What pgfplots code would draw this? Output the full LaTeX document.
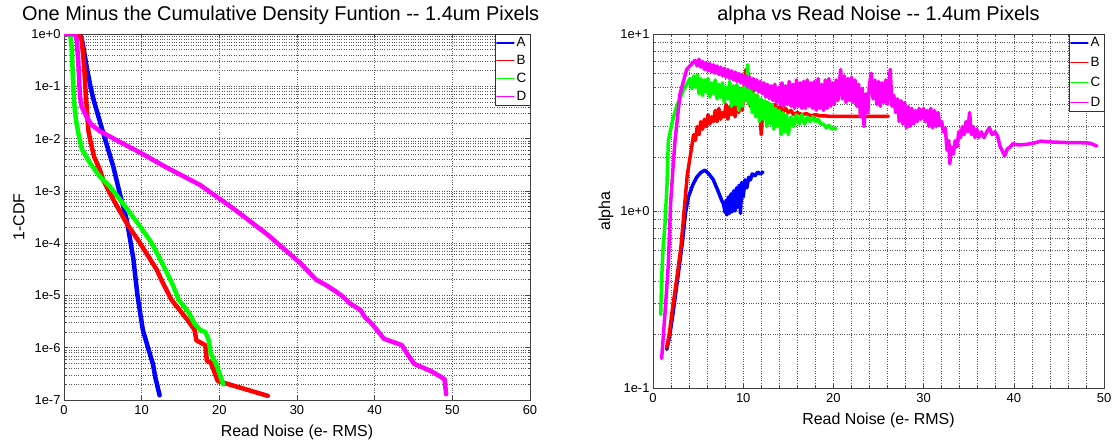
\documentclass[border=0pt]{standalone}
\usepackage{fontspec}
\setmainfont{Liberation Sans}
\usepackage{pgfplots}
\pgfplotsset{compat=1.18}

\definecolor{cA}{RGB}{0,0,255}
\definecolor{cB}{RGB}{255,0,0}
\definecolor{cC}{RGB}{0,255,0}
\definecolor{cD}{RGB}{255,0,255}

\pgfplotsset{
  mstyle/.style={
    scale only axis,
    /pgf/number format/assume math mode=true,
    axis line style={black!75, line width=0.8bp},
    tick style={black!75, line width=0.6bp},
    major tick length=4bp, minor tick length=2bp,
    tick align=inside,
    grid style={dotted, black!65, line width=0.6bp},
    tick label style={font=\fontsize{13}{13}\selectfont},
    xticklabel style={yshift=-2bp},
    label style={font=\fontsize{16}{16}\selectfont},
    xlabel style={yshift=-3bp},
    title style={font=\fontsize{20}{20}\selectfont},
    legend style={at={(1,1)}, anchor=north east, draw=black!80, fill=white,
      font=\fontsize{13.5}{14}\selectfont, inner sep=1.5pt, row sep=3bp,
      cells={anchor=west}},
    legend image post style={line width=1.4bp},
    every axis plot/.append style={line join=round, line cap=round},
  },
}

\begin{document}
\begin{tikzpicture}
\path[use as bounding box] (0,0) rectangle (1115bp,445bp);

% ---------- left: 1-CDF ----------
\begin{axis}[
  mstyle,
  at={(64bp,45bp)}, anchor=south west,
  width=466bp, height=366bp,
  xmin=0, xmax=60, ymin=1e-7, ymax=1,
  ymode=log,
  xtick={0,10,...,60},
  ytick={1e-7,1e-6,1e-5,1e-4,1e-3,1e-2,1e-1,1},
  yticklabels={1e-7,1e-6,1e-5,1e-4,1e-3,1e-2,1e-1,1e+0},
  xmajorgrids, ymajorgrids, yminorgrids,
  xlabel={Read Noise (e- RMS)},
  ylabel={1-CDF},
  title={One Minus the Cumulative Density Funtion -{}- 1.4um Pixels},
  title style={at={(0.465,1)}, anchor=south},
]
\addplot[cA, line width=4.5bp] coordinates {
(0,1) (2.0,1) (2.3,0.8) (2.6,0.45) (3.0,0.2) (3.4,0.1) (3.77,0.058) (5.06,0.0126)
(6.35,2.9e-3) (7.1,1e-3) (8.07,2.8e-4) (8.5,1.2e-4) (8.93,5e-5) (9.46,1e-5)
(10.15,2.2e-6) (10.8,1.02e-6) (11.45,4.9e-7) (11.76,2.7e-7) (12.31,1.23e-7)};
\addlegendentry{A}
\addplot[cB, line width=4.5bp] coordinates {
(0,1) (1.85,1) (2.27,0.78) (2.57,0.275) (2.83,0.063) (3.13,0.0145) (3.4,9e-3)
(3.88,4.5e-3) (4.63,2.5e-3) (5.06,1.6e-3) (6.35,6.8e-4) (8.07,2.4e-4) (9.79,1e-4)
(11.94,3.1e-5) (12.68,1.8e-5) (13.83,8.3e-6) (15.2,4.6e-6) (15.9,3.4e-6) (16.8,2.2e-6)
(17.05,1.38e-6) (18.2,1.12e-6) (18.4,5.6e-7) (18.9,5.2e-7) (19.8,2.3e-7) (20.27,2.2e-7)
(26.25,1.2e-7)};
\addlegendentry{B}
\addplot[cC, line width=4.5bp] coordinates {
(0,1) (0.8,1) (1.0,0.56) (1.15,0.14) (1.3,0.05) (1.55,0.022) (1.85,0.0126) (2.3,6.3e-3)
(3.35,3.4e-3) (4.63,1.86e-3) (5.92,1.2e-3) (7.64,5.6e-4) (9.79,2.1e-4) (11.3,1e-4)
(12.7,4e-5) (14.0,1.6e-5) (14.75,8.3e-6) (16.1,4.6e-6) (16.8,2.9e-6) (17.5,2.2e-6)
(18.2,2.0e-6) (18.65,1.38e-6) (18.9,7.6e-7) (19.6,4.9e-7) (20.5,2.0e-7)};
\addlegendentry{C}
\addplot[cD, line width=4.5bp] coordinates {
(0,1) (1.42,1) (1.63,0.78) (1.85,0.275) (2.06,0.063) (2.27,0.041) (2.92,0.026)
(3.5,0.0186) (4.63,0.0138) (6.78,9.3e-3) (9.79,5.4e-3) (13.2,2.8e-3) (17.5,1.3e-3)
(21.8,4.6e-4) (26.1,1.5e-4) (30.4,4.2e-5) (32.46,2e-5) (33.6,1.62e-5) (34.98,1.2e-5)
(35.9,9.5e-6) (36.8,7.1e-6) (38.2,5.2e-6) (38.7,3.9e-6) (39.6,2.9e-6) (40.5,2e-6)
(41.2,1.48e-6) (42.35,1.29e-6) (43.5,1.12e-6) (44.2,7.6e-7) (45.1,4.9e-7) (47.2,3.6e-7)
(48.3,2.9e-7) (49.0,2.5e-7) (49.2,1.29e-7)};
\addlegendentry{D}
\end{axis}

% ---------- right: alpha ----------
\begin{axis}[
  mstyle,
  at={(653bp,57bp)}, anchor=south west,
  width=451bp, height=354bp,
  xmin=0, xmax=50, ymin=0.1, ymax=10,
  ymode=log,
  xtick={0,10,...,50}, minor x tick num=4,
  ytick={0.1,1,10},
  yticklabels={1e-1,1e+0,1e+1},
  xmajorgrids, xminorgrids, ymajorgrids, yminorgrids,
  xlabel={Read Noise (e- RMS)},
  ylabel={alpha},
  title={alpha vs Read Noise -{}- 1.4um Pixels},
  legend style={row sep=5bp},
]
\addplot[cA, line width=3.5bp] coordinates {
(1.52,0.165) (1.8,0.19) (2.2,0.26) (2.75,0.42) (3.25,0.66) (3.6,0.97) (3.92,1.2)
(4.4,1.4) (4.84,1.55) (5.3,1.65) (5.76,1.7) (6.2,1.62) (6.69,1.5) (7.2,1.3) (7.61,1.15)
(7.8,1.1) (8.0,0.98) (8.1,1.15) (8.2,0.95) (8.35,1.2) (8.5,0.97) (8.65,1.25) (8.8,0.99)
(8.95,1.3) (9.1,1.0) (9.25,1.35) (9.4,1.05) (9.55,1.4) (9.7,0.97) (9.85,1.45) (10.0,1.2)
(10.2,1.5) (10.4,1.35) (10.6,1.55) (10.8,1.5) (11.0,1.62) (11.3,1.58) (11.6,1.66)
(11.9,1.62) (12.2,1.66)};
\addlegendentry{A}
\addplot[cB, line width=3.5bp] coordinates {
(1.52,0.17) (1.8,0.2) (2.07,0.26) (2.62,0.41) (3.1,0.63) (3.45,1.0) (3.8,1.6) (4.29,2.3)
(4.5,2.7) (4.7,2.5) (4.9,3.0) (5.1,2.7) (5.3,3.2) (5.5,2.9) (5.7,3.3) (5.9,3.0) (6.1,3.5)
(6.3,3.1) (6.5,3.4) (6.7,3.2) (6.9,3.7) (7.1,3.2) (7.3,3.8) (7.5,3.3) (7.7,3.6) (7.9,3.4)
(8.1,4.0) (8.3,3.3) (8.5,3.9) (8.7,3.5) (8.9,4.1) (9.1,3.4) (9.3,4.2) (9.5,3.6) (9.7,4.3)
(9.9,3.7) (10.1,5.0) (10.3,6.3) (10.4,4.2) (10.6,6.0) (10.8,3.9) (11.0,4.8) (11.2,3.8)
(11.4,4.5) (11.6,3.6) (11.8,4.2) (12.0,2.7) (12.2,4.0) (12.4,3.6) (12.6,4.1) (12.8,3.7)
(13.0,4.0) (13.2,3.8) (13.5,4.0) (13.8,3.7) (14.1,3.9) (14.4,3.6) (14.7,3.8) (15.0,3.6)
(15.3,3.7) (15.6,3.5) (16.0,3.6) (16.5,3.5) (17.0,3.55) (17.5,3.45) (18.0,3.5) (18.5,3.45)
(19.0,3.45) (19.5,3.43) (26.1,3.43)};
\addlegendentry{B}
\addplot[cC, line width=3.5bp] coordinates {
(0.85,0.26) (0.95,0.4) (1.1,0.6) (1.33,0.85) (1.55,1.4) (1.7,2.5) (2.2,3.3) (2.62,3.9)
(3.36,4.8) (4.1,5.6) (4.3,4.9) (4.5,5.8) (4.7,5.0) (4.9,5.9) (5.1,4.6) (5.3,5.6) (5.5,4.5)
(5.7,5.5) (5.9,4.7) (6.1,5.6) (6.3,4.4) (6.5,5.3) (6.7,4.6) (6.9,5.5) (7.1,4.3) (7.3,5.2)
(7.5,4.4) (7.7,5.3) (7.9,4.1) (8.1,5.0) (8.3,4.3) (8.5,5.4) (8.7,3.9) (8.9,5.1) (9.1,4.0)
(9.3,5.2) (9.5,3.7) (9.7,4.9) (9.9,3.9) (10.1,5.0) (10.3,4.2) (10.5,6.7) (10.6,4.0)
(10.8,5.2) (11.0,3.6) (11.2,4.6) (11.4,3.4) (11.6,4.5) (11.8,3.2) (12.0,4.3) (12.2,3.3)
(12.4,4.2) (12.6,3.0) (12.8,4.1) (13.0,3.1) (13.2,4.0) (13.4,2.9) (13.6,3.8) (13.8,3.0)
(14.0,3.7) (14.2,2.7) (14.4,3.6) (14.6,2.8) (14.8,3.5) (15.0,2.7) (15.3,3.4) (15.6,3.0)
(15.9,3.5) (16.2,3.1) (16.5,3.5) (16.8,3.1) (17.1,3.4) (17.4,3.2) (17.7,3.4) (18.0,3.2)
(18.3,3.3) (18.6,3.1) (18.9,3.1) (19.2,2.95) (19.5,3.05) (19.8,2.9) (20.1,2.95) (20.3,2.9)};
\addlegendentry{C}
\addplot[cD, line width=3.5bp] coordinates {
(0.96,0.147) (1.33,0.264) (1.7,0.5) (1.95,1.1) (2.2,1.7) (2.44,2.5) (3.0,4.6) (3.73,6.3)
(4.66,7.1) (4.9,6.6) (5.1,7.2) (5.3,6.5) (5.5,7.0) (5.7,6.3) (5.9,6.9) (6.1,6.2) (6.3,6.8)
(6.5,6.1) (6.7,6.7) (6.9,6.0) (7.1,6.6) (7.3,5.9) (7.5,6.5) (7.7,5.8) (7.9,6.4) (8.1,5.7)
(8.3,6.3) (8.5,5.6) (8.7,6.2) (8.9,5.5) (9.1,6.1) (9.3,5.4) (9.5,6.0) (9.7,5.3) (9.9,5.9)
(10.1,5.2) (10.3,5.8) (10.5,5.0) (10.7,5.7) (10.9,4.9) (11.1,5.6) (11.3,4.8) (11.5,5.5)
(11.7,4.7) (11.9,5.4) (12.1,4.6) (12.3,5.3) (12.5,4.4) (12.7,5.2) (12.9,4.3) (13.1,5.1)
(13.3,4.2) (13.5,5.2) (13.7,4.1) (13.9,5.0) (14.1,4.0) (14.3,5.3) (14.5,3.9) (14.7,5.1)
(14.9,4.0) (15.1,5.4) (15.3,3.9) (15.5,5.2) (15.7,3.8) (15.9,5.5) (16.1,3.9) (16.3,5.3)
(16.5,3.8) (16.7,5.4) (16.9,3.8) (17.1,5.5) (17.3,3.9) (17.5,5.3) (17.7,3.8) (17.9,5.4)
(18.1,3.7) (18.3,5.6) (18.5,3.8) (18.7,5.2) (18.9,3.7) (19.1,5.5) (19.3,3.8) (19.5,5.6)
(19.7,3.9) (19.9,5.3) (20.1,4.0) (20.3,5.5) (20.5,4.2) (20.8,6.3) (21.0,4.3) (21.2,5.8)
(21.4,4.1) (21.6,5.6) (21.8,4.2) (22.0,5.7) (22.2,4.1) (22.4,5.5) (22.6,3.9) (22.8,5.2)
(23.0,3.4) (23.2,4.9) (23.4,3.0) (23.6,4.6) (23.8,3.6) (24.0,5.2) (24.2,6.0) (24.4,4.3)
(24.6,5.5) (24.8,4.0) (25.0,5.4) (25.2,3.9) (25.4,5.3) (25.6,4.1) (25.8,5.5) (26.0,4.0)
(26.3,6.3) (26.5,3.9) (26.7,4.5) (26.9,3.6) (27.1,4.3) (27.3,3.2) (27.5,4.2) (27.7,3.1)
(27.9,4.1) (28.1,2.95) (28.3,3.9) (28.5,3.0) (28.7,3.8) (28.9,3.1) (29.1,3.7) (29.3,3.2)
(29.5,3.8) (29.7,3.3) (30.0,3.8) (30.2,3.2) (30.4,3.7) (30.6,3.0) (30.8,3.8) (31.0,2.95)
(31.2,3.7) (31.4,3.0) (31.6,3.6) (31.8,3.05) (32.0,3.2) (32.2,2.8) (32.4,2.95) (32.6,2.2)
(32.8,2.5) (32.9,1.85) (33.1,2.3) (33.3,2.1) (33.5,2.5) (33.7,2.3) (33.9,2.8) (34.1,2.6)
(34.3,3.0) (34.5,2.7) (34.7,3.2) (34.9,2.8) (35.1,3.6) (35.3,2.7) (35.5,3.0) (35.7,2.6)
(35.9,2.9) (36.1,2.6) (36.4,2.8) (36.7,2.6) (37.0,2.8) (37.3,2.95) (37.6,2.7) (37.9,2.8)
(38.2,2.65) (38.5,2.3) (38.8,2.15) (39.0,2.05) (39.3,2.25) (39.6,2.3) (39.9,2.4) (40.5,2.36)
(41.4,2.38) (42.2,2.42) (43.0,2.48) (43.8,2.46) (44.5,2.45) (45.5,2.44) (46.5,2.43)
(47.5,2.43) (48.4,2.42) (49.2,2.33)};
\addlegendentry{D}
\end{axis}
\end{tikzpicture}
\end{document}
